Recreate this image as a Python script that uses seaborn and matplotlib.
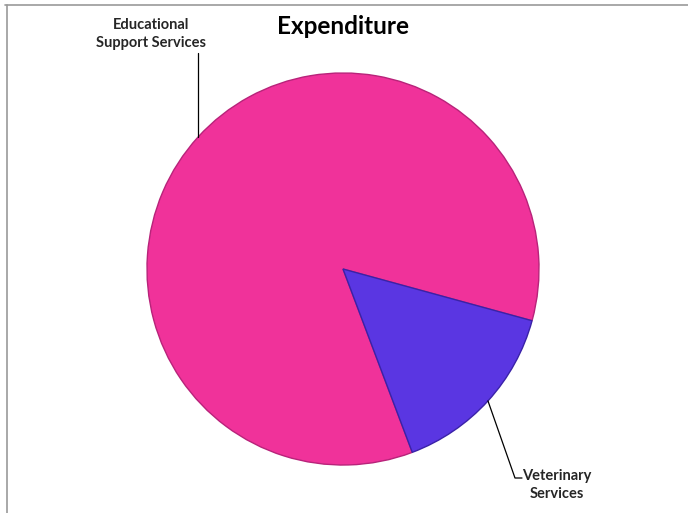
import numpy as np
import matplotlib
matplotlib.use("Agg")
import matplotlib.pyplot as plt
import seaborn as sns
from matplotlib.lines import Line2D

sns.set_theme(style="white")
plt.rcParams['font.family'] = ['Lato', 'DejaVu Sans']

categories = ["Educational\nSupport Services", "Veterinary\nServices"]
values = [85, 15]
colors = ["#F0329A", "#5A36E2"]
edge_colors = ["#B8237A", "#3A22A8"]

W, H = 688, 513
fig = plt.figure(figsize=(W / 100, H / 100), dpi=100)
ax = fig.add_axes([0, 0, 1, 1])

cx, cy, r = 343, H - 269, 196
wedges, _ = ax.pie(values, colors=colors, startangle=-15.3, counterclock=True,
                   center=(cx, cy), radius=r, frame=True,
                   wedgeprops=dict(linewidth=1.0))
for w, ec in zip(wedges, edge_colors):
    w.set_edgecolor(ec)
ax.set_xlim(0, W)
ax.set_ylim(0, H)
ax.set_aspect("equal")
ax.axis("off")

# leader lines from the middle of each wedge's rim
def rim_point(w):
    a = np.deg2rad((w.theta1 + w.theta2) / 2)
    return cx + r * np.cos(a), cy + r * np.sin(a)

x0, y0 = rim_point(wedges[0])
ax.add_line(Line2D([x0, x0], [y0, H - 53], color="black", lw=0.9))
ax.text(151, H - 34, categories[0], ha="center", va="center",
        fontsize=10.5, fontweight="bold", color="#262626", linespacing=1.3)

x1, y1 = rim_point(wedges[1])
ax.add_line(Line2D([x1, 515, 522], [y1, H - 478, H - 478], color="black", lw=0.9))
ax.text(557, H - 485, categories[1], ha="center", va="center",
        fontsize=10.5, fontweight="bold", color="#262626", linespacing=1.3)

ax.text(343, H - 27, "Expenditure", ha="center", va="center",
        fontsize=17.5, fontweight="bold", color="black")

# chart frame (top and left edges)
fig.add_artist(Line2D([5 / W, 1], [1 - 5 / H, 1 - 5 / H], transform=fig.transFigure,
                      color="#999999", lw=1.2))
fig.add_artist(Line2D([7 / W, 7 / W], [0, 1 - 5 / H], transform=fig.transFigure,
                      color="#999999", lw=1.2))

fig.savefig("out.png", dpi=100, facecolor="white")
